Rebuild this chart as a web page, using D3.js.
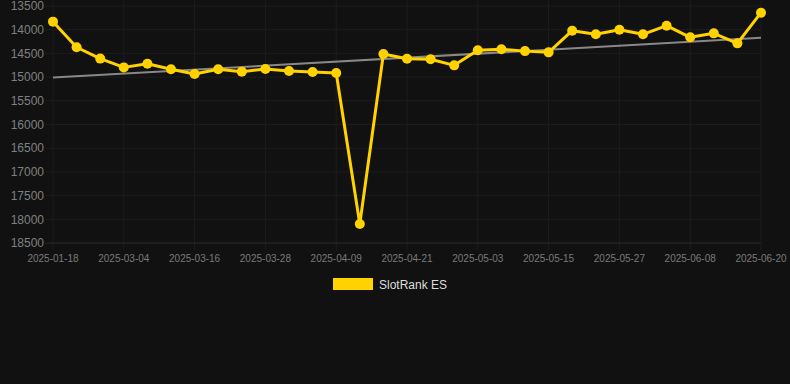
<!DOCTYPE html>
<html>
<head>
<meta charset="utf-8">
<script src="https://cdn.jsdelivr.net/npm/d3@7"></script>
<style>
  html, body { margin: 0; padding: 0; background: #111111; }
  svg { display: block; font-family: "Liberation Sans", Arial, Helvetica, sans-serif; }
</style>
</head>
<body>
<svg id="chart" width="790" height="384"></svg>
<script>
const dates = ["2025-01-18","2025-02-24","2025-02-28","2025-03-04","2025-03-08","2025-03-12","2025-03-16","2025-03-20","2025-03-24","2025-03-28","2025-04-01","2025-04-05","2025-04-09","2025-04-13","2025-04-17","2025-04-21","2025-04-25","2025-04-29","2025-05-03","2025-05-07","2025-05-11","2025-05-15","2025-05-19","2025-05-23","2025-05-27","2025-05-31","2025-06-04","2025-06-08","2025-06-12","2025-06-16","2025-06-20"];
const rankES = [13830,14370,14610,14795,14720,14835,14935,14835,14885,14830,14870,14893,14914,18100,14513,14612,14625,14752,14435,14414,14452,14478,14021,14097,14000,14097,13915,14161,14077,14288,13641];
const trendES = [15010, 14170];
const yTicks = [13500,14000,14500,15000,15500,16000,16500,17000,17500,18000,18500];
const seriesName = "SlotRank ES";

(function () {
const svg = d3.select("#chart");
const mLeft = 53, mRight = 761, mTop = 6, mBottom = 243;

const x = d3.scalePoint().domain(dates).range([mLeft, mRight]);
const y = d3.scaleLinear().domain([13500, 18500]).range([mTop, mBottom]);

// grid
const shownDates = dates.filter((d, i) => i % 3 === 0);
svg.append("g").selectAll("line").data(shownDates).join("line")
  .attr("x1", d => x(d)).attr("x2", d => x(d))
  .attr("y1", 0).attr("y2", mBottom + 7)
  .attr("stroke", "#1d1d1d").attr("stroke-width", 1);
svg.append("g").selectAll("line").data(yTicks).join("line")
  .attr("x1", mLeft - 8).attr("x2", mRight)
  .attr("y1", d => y(d)).attr("y2", d => y(d))
  .attr("stroke", d => d === 18500 ? "#2a2a2a" : "#1d1d1d").attr("stroke-width", 1);

// y labels
svg.append("g").selectAll("text").data(yTicks).join("text")
  .attr("x", mLeft - 9).attr("y", d => y(d))
  .attr("dy", "0.35em").attr("text-anchor", "end")
  .attr("fill", "#808080").attr("font-size", 12)
  .text(d => d);

// x labels
svg.append("g").selectAll("text").data(shownDates).join("text")
  .attr("x", d => x(d)).attr("y", mBottom + 19)
  .attr("text-anchor", "middle")
  .attr("fill", "#7a7a7a").attr("font-size", 10)
  .text(d => d);

// trend line
svg.append("line")
  .attr("x1", x(dates[0])).attr("x2", x(dates[dates.length - 1]))
  .attr("y1", y(trendES[0])).attr("y2", y(trendES[1]))
  .attr("stroke", "#888").attr("stroke-width", 2);

// series line
const line = d3.line().x((d, i) => x(dates[i])).y(d => y(d));
svg.append("path").datum(rankES)
  .attr("d", line).attr("fill", "none")
  .attr("stroke", "#FFD200").attr("stroke-width", 3)
  .attr("stroke-linejoin", "round");

svg.append("g").selectAll("circle").data(rankES).join("circle")
  .attr("cx", (d, i) => x(dates[i])).attr("cy", d => y(d))
  .attr("r", 5).attr("fill", "#FFD200");

// legend
svg.append("rect").attr("x", 333).attr("y", 278).attr("width", 40).attr("height", 12)
  .attr("fill", "#FFD200");
svg.append("text").attr("x", 379).attr("y", 289)
  .attr("fill", "#ddd").attr("font-size", 12).text(seriesName);
})();
</script>
</body>
</html>
